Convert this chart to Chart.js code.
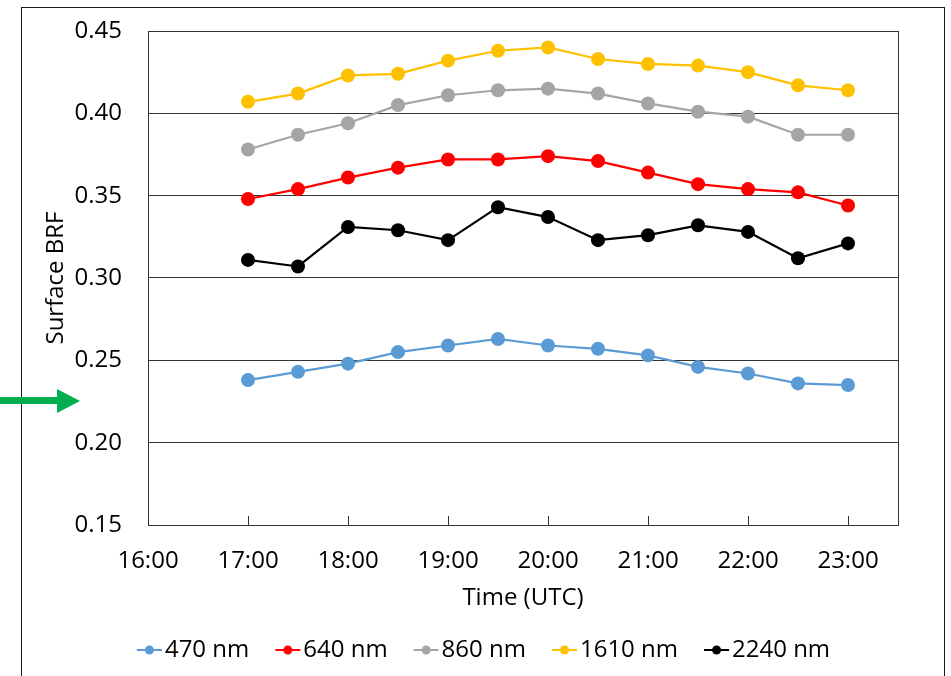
<!DOCTYPE html>
<html>
<head>
<meta charset="utf-8">
<title>Surface BRF</title>
<script src="https://cdn.jsdelivr.net/npm/chart.js@4/dist/chart.umd.min.js"></script>
<style>
  html, body { margin: 0; padding: 0; background: #fff; overflow: hidden; width: 951px; height: 676px; }
  #frame { position: absolute; left: 21px; top: 7px; width: 922px; height: 700px; border: 1px solid #1a1a1a; background: #fff; }
  #chart { position: absolute; left: 0; top: -22px; }
  #arrow { position: absolute; left: 0; top: 385px; z-index: 5; }
</style>
</head>
<body>
<div id="frame">
  <canvas id="chart" width="922" height="689"></canvas>
</div>
<svg id="arrow" width="82" height="32" viewBox="0 0 82 32">
  <rect x="0" y="12" width="58" height="7" fill="#00b050"></rect>
  <polygon points="57,4 80,16 57,28" fill="#00b050"></polygon>
</svg>
<script>
// hours UTC (17:00 ... 23:00, every 30 min)
const times = [17, 17.5, 18, 18.5, 19, 19.5, 20, 20.5, 21, 21.5, 22, 22.5, 23];
const xTickValues = [16, 17, 18, 19, 20, 21, 22, 23];

const brf470  = [0.238, 0.243, 0.248, 0.255, 0.259, 0.263, 0.259, 0.257, 0.253, 0.246, 0.242, 0.236, 0.235];
const brf640  = [0.348, 0.354, 0.361, 0.367, 0.372, 0.372, 0.374, 0.371, 0.364, 0.357, 0.354, 0.352, 0.344];
const brf860  = [0.378, 0.387, 0.394, 0.405, 0.411, 0.414, 0.415, 0.412, 0.406, 0.401, 0.398, 0.387, 0.387];
const brf1610 = [0.407, 0.412, 0.423, 0.424, 0.432, 0.438, 0.440, 0.433, 0.430, 0.429, 0.425, 0.417, 0.414];
const brf2240 = [0.311, 0.307, 0.331, 0.329, 0.323, 0.343, 0.337, 0.323, 0.326, 0.332, 0.328, 0.312, 0.321];

const seriesNames = ['470 nm', '640 nm', '860 nm', '1610 nm', '2240 nm'];
const seriesColors = ['#5b9bd5', '#ff0000', '#a5a5a5', '#ffc000', '#000000'];
const seriesValues = [brf470, brf640, brf860, brf1610, brf2240];

const yTicksMin = 0.15, yTicksMax = 0.45, yStep = 0.05;
const xMin = 16, xMax = 23.5;

Chart.defaults.font.family = '"Open Sans", sans-serif';
Chart.defaults.font.size = 24;
Chart.defaults.color = '#000';

// little line + dot icons for the legend, like Excel
function legendIcon(color) {
  const c = document.createElement('canvas');
  c.width = 41; c.height = 14;
  const g = c.getContext('2d');
  g.strokeStyle = color;
  g.lineWidth = 2;
  g.beginPath();
  g.moveTo(13, 7);
  g.lineTo(38, 7);
  g.stroke();
  g.fillStyle = color;
  g.beginPath();
  g.arc(25.5, 7, 4.5, 0, Math.PI * 2);
  g.fill();
  return c;
}
const icons = seriesColors.map(legendIcon);

const datasets = seriesNames.map((name, i) => ({
  label: name,
  data: times.map((t, j) => ({ x: t, y: seriesValues[i][j] })),
  borderColor: seriesColors[i],
  backgroundColor: seriesColors[i],
  borderWidth: 2.2,
  pointRadius: 7,
  pointHoverRadius: 7,
  pointBorderWidth: 0,
  tension: 0
}));

// plot box and inward tick marks on the time axis
const boxPlugin = {
  id: 'box',
  beforeDatasetsDraw(chart) {
    const { ctx, chartArea: a } = chart;
    const xs = chart.scales.x;
    ctx.save();
    ctx.strokeStyle = '#333';
    ctx.lineWidth = 1;
    ctx.strokeRect(Math.round(a.left) + 0.5, Math.round(a.top) + 0.5,
                   Math.round(a.right - a.left), Math.round(a.bottom - a.top));
    ctx.beginPath();
    xs.ticks.forEach(t => {
      const px = Math.round(xs.getPixelForValue(t.value)) + 0.5;
      ctx.moveTo(px, a.bottom);
      ctx.lineTo(px, a.bottom - 9);
    });
    ctx.stroke();
    ctx.restore();
  }
};

new Chart(document.getElementById('chart'), {
  type: 'line',
  data: { datasets },
  options: {
    responsive: false,
    animation: false,
    layout: { padding: { left: 0, right: 0, top: 45, bottom: 3 } },
    plugins: {
      tooltip: { enabled: false },
      legend: {
        position: 'bottom',
        labels: {
          usePointStyle: true,
          pointStyleWidth: 17,
          padding: 25,
          color: '#000',
          font: { size: 24 },
          generateLabels(chart) {
            const items = Chart.defaults.plugins.legend.labels.generateLabels(chart);
            items.forEach((it, i) => { it.pointStyle = icons[i]; });
            return items;
          }
        }
      }
    },
    scales: {
      x: {
        type: 'linear',
        min: xMin,
        max: xMax,
        grid: { display: false, drawTicks: false },
        border: { display: false },
        ticks: {
          padding: 22,
          autoSkip: false,
          maxRotation: 0,
          callback: v => Math.round(v) + ':00'
        },
        afterBuildTicks(scale) {
          scale.ticks = xTickValues.map(v => ({ value: v }));
        },
        afterFit(scale) { scale.height = 88; },
        title: { display: true, text: 'Time (UTC)', padding: { top: 0, bottom: 0 } }
      },
      y: {
        min: yTicksMin,
        max: yTicksMax,
        grid: { color: '#333', lineWidth: 1, drawTicks: false },
        border: { display: false },
        ticks: {
          stepSize: yStep,
          padding: 26,
          callback: v => v.toFixed(2)
        },
        afterFit(scale) { scale.width = 126; },
        title: { display: true, text: 'Surface BRF', padding: { top: 20, bottom: 0 } }
      },
      y2: {
        position: 'right',
        display: true,
        grid: { display: false, drawTicks: false },
        border: { display: false },
        ticks: { display: false },
        afterFit(scale) { scale.width = 46; }
      }
    }
  },
  plugins: [boxPlugin]
});
</script>
</body>
</html>
